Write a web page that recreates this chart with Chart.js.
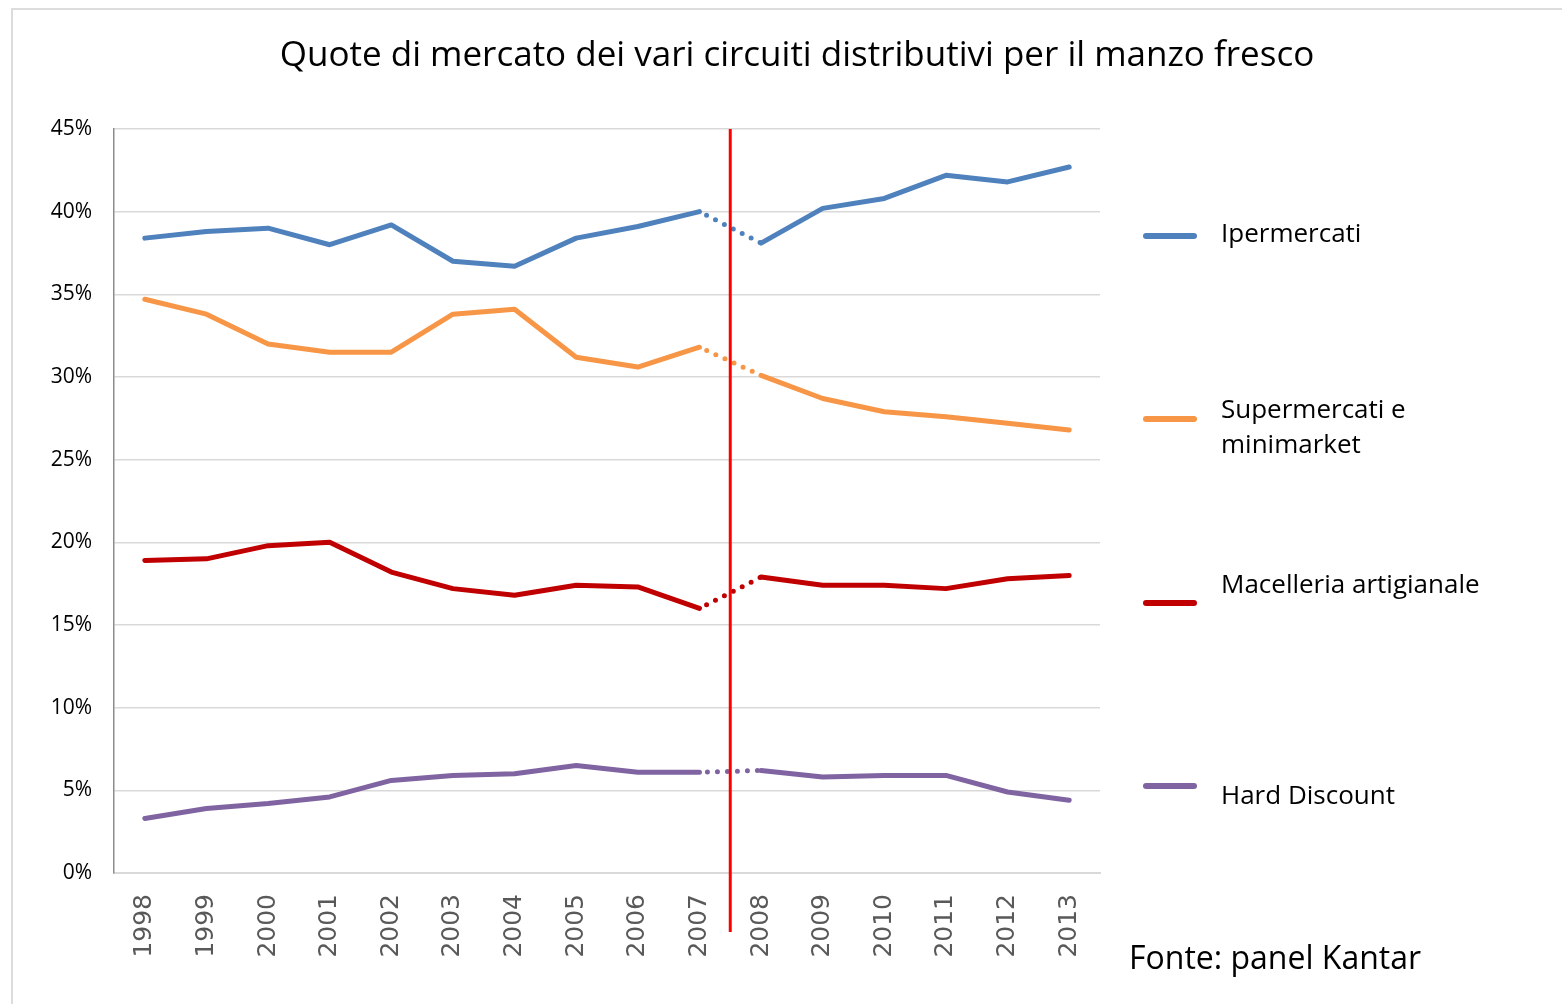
<!DOCTYPE html>
<html lang="it">
<head>
<meta charset="utf-8">
<title>Quote di mercato dei vari circuiti distributivi per il manzo fresco</title>
<script src="https://cdn.jsdelivr.net/npm/chart.js@4.4.1/dist/chart.umd.min.js"></script>
<style>
  html, body { margin: 0; padding: 0; background: #fff; }
  body { width: 1562px; height: 1004px; position: relative; overflow: hidden; font-family: "Open Sans", sans-serif; }
  #frame { position: absolute; left: 11px; top: 8px; width: 1600px; height: 1100px; border: 2px solid #dcdcdc; box-sizing: border-box; }
  #wrap { position: absolute; left: 0; top: 0; width: 1562px; height: 1004px; }
  #title { position: absolute; left: 0; top: 31px; width: 1594px; text-align: center; font-size: 35px; line-height: 44px; color: #000; white-space: nowrap; }
  .leg-line { position: absolute; left: 1143px; width: 54px; height: 6px; border-radius: 3px; }
  .leg-text { position: absolute; left: 1221px; font-size: 26px; line-height: 35px; color: #000; white-space: nowrap; }
  #source { position: absolute; left: 1129px; top: 936px; font-size: 32px; line-height: 42px; color: #000; white-space: nowrap; }
</style>
</head>
<body>
<div id="frame"></div>
<div id="wrap"><canvas id="chart" width="1562" height="1004"></canvas></div>
<div id="title">Quote di mercato dei vari circuiti distributivi per il manzo fresco</div>
<div id="legend"></div>
<div id="source">Fonte: panel Kantar</div>

<script>
"use strict";

// ── Data ───────────────────────────────────────────────────────────────────
const years = ["1998", "1999", "2000", "2001", "2002", "2003", "2004", "2005",
               "2006", "2007", "2008", "2009", "2010", "2011", "2012", "2013"];

const ipermercati  = [38.4, 38.8, 39.0, 38.0, 39.2, 37.0, 36.7, 38.4, 39.1, 40.0, 38.1, 40.2, 40.8, 42.2, 41.8, 42.7];
const supermercati = [34.7, 33.8, 32.0, 31.5, 31.5, 33.8, 34.1, 31.2, 30.6, 31.8, 30.1, 28.7, 27.9, 27.6, 27.2, 26.8];
const macelleria   = [18.9, 19.0, 19.8, 20.0, 18.2, 17.2, 16.8, 17.4, 17.3, 16.0, 17.9, 17.4, 17.4, 17.2, 17.8, 18.0];
const hardDiscount = [3.3, 3.9, 4.2, 4.6, 5.6, 5.9, 6.0, 6.5, 6.1, 6.1, 6.2, 5.8, 5.9, 5.9, 4.9, 4.4];

const seriesNames  = ["Ipermercati", "Supermercati e\nminimarket", "Macelleria artigianale", "Hard Discount"];
const seriesColors = ["#4f81bd", "#f79646", "#c00000", "#8064a2"];

const yTicks = [0, 5, 10, 15, 20, 25, 30, 35, 40, 45];

// index of the segment (2007 -> 2008) drawn dotted, with the break line in between
const breakIndex = 9;

// ── Legend (hand placed on the right, as in the original) ───────────────────
const legendLineTop = [233, 416, 600, 783];
const legendTextTop = [215, 391, 566, 777];

const legendEl = document.getElementById("legend");
seriesNames.forEach((name, i) => {
  const line = document.createElement("div");
  line.className = "leg-line";
  line.style.top = legendLineTop[i] + "px";
  line.style.background = seriesColors[i];
  legendEl.appendChild(line);

  const txt = document.createElement("div");
  txt.className = "leg-text";
  txt.style.top = legendTextTop[i] + "px";
  txt.innerHTML = name.split("\n").join("<br>");
  legendEl.appendChild(txt);
});

// ── Break line plugin ───────────────────────────────────────────────────────
const breakLine = {
  id: "breakLine",
  afterDatasetsDraw(chart) {
    const x = chart.scales.x;
    const px = (x.getPixelForValue(breakIndex) + x.getPixelForValue(breakIndex + 1)) / 2;
    const ctx = chart.ctx;
    ctx.save();
    ctx.strokeStyle = "#ff0000";
    ctx.lineWidth = 3;
    ctx.beginPath();
    ctx.moveTo(px, chart.chartArea.top);
    ctx.lineTo(px, 932);
    ctx.stroke();
    ctx.restore();
  },
};

// ── Chart ──────────────────────────────────────────────────────────────────
const allSeries = [ipermercati, supermercati, macelleria, hardDiscount];

const datasets = allSeries.map((vals, i) => ({
  label: seriesNames[i].replace("\n", " "),
  data: vals,
  borderColor: seriesColors[i],
  backgroundColor: seriesColors[i],
  borderWidth: 5,
  borderCapStyle: "round",
  borderJoinStyle: "round",
  pointRadius: 0,
  tension: 0,
  segment: {
    borderDash: ctx => ctx.p0DataIndex === breakIndex ? [0, 10] : undefined,
    borderDashOffset: ctx => ctx.p0DataIndex === breakIndex ? -8 : undefined,
  },
}));

new Chart(document.getElementById("chart"), {
  type: "line",
  data: { labels: years, datasets },
  options: {
    responsive: false,
    animation: false,
    layout: { padding: { left: 0, right: 462, top: 129, bottom: 0 } },
    plugins: {
      legend: { display: false },
      tooltip: { enabled: false },
    },
    scales: {
      x: {
        offset: true,
        grid: { display: false, drawTicks: false },
        border: { color: "#d9d9d9", width: 2 },
        ticks: {
          color: "#595959",
          font: { family: "DejaVu Sans", size: 25 },
          minRotation: 90,
          maxRotation: 90,
          padding: 21,
          autoSkip: false,
        },
        afterFit: s => { s.height = 131; },
      },
      y: {
        min: 0,
        max: 45,
        afterBuildTicks: s => { s.ticks = yTicks.map(v => ({ value: v })); },
        grid: { color: "#d9d9d9", lineWidth: 1.5, drawTicks: false },
        border: { color: "#8c8c8c", width: 1.5 },
        ticks: {
          color: "#000",
          font: { family: "Open Sans", size: 21 },
          padding: 22,
          callback: v => v + "%",
        },
        afterFit: s => { s.width = 114; },
      },
    },
  },
  plugins: [breakLine],
});
</script>
</body>
</html>
